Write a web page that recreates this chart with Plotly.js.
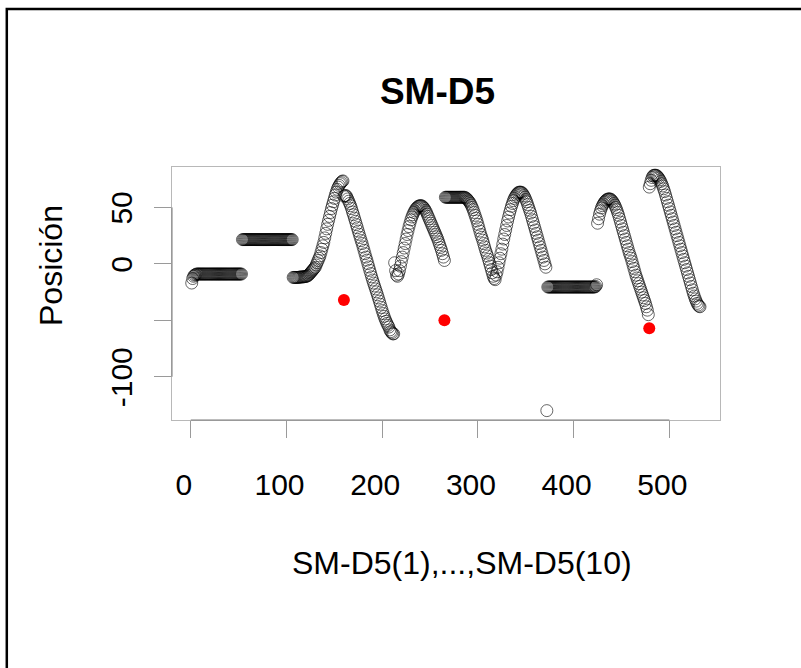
<!DOCTYPE html>
<html>
<head>
<meta charset="utf-8">
<script src="https://cdn.plot.ly/plotly-3.0.1.min.js"></script>
<style>
  html, body { margin: 0; padding: 0; background: #ffffff; }
  #chart { width: 801px; height: 668px; }
</style>
</head>
<body>
<div id="chart"></div>
<script>
// ---- Data ----
var seg1 = [-17,-13,-11,-10,-9.5,-9,-9,-9,-9,-9,
  -9,-9,-9,-9,-9,-9,-9,-9,-9,-9,
  -9,-9,-9,-9,-9,-9,-9,-9,-9,-9,
  -9,-9,-9,-9,-9,-9,-9,-9,-9,-9,
  -9,-9,-9,-9,-9,-9,-9,-9,-9,-9,
  -9,-9,-9];
var seg2 = [21.5,21.5,21.5,21.5,21.5,21.5,21.5,21.5,21.5,21.5,
  21.5,21.5,21.5,21.5,21.5,21.5,21.5,21.5,21.5,21.5,
  21.5,21.5,21.5,21.5,21.5,21.5,21.5,21.5,21.5,21.5,
  21.5,21.5,21.5,21.5,21.5,21.5,21.5,21.5,21.5,21.5,
  21.5,21.5,21.5,21.5,21.5,21.5,21.5,21.5,21.5,21.5,
  21.5,21.5,21.5];
var seg3 = [-12,-12,-12,-12,-12,-12,-11.8,-11.8,-11.6,-11.6,
  -11.5,-11.5,-11.3,-11.2,-11,-10.5,-10,-9,-8,-7,
  -6,-5,-4,-3,-1,1,3,5,7,10,
  13,16,19,23,27,31,35,38.5,42,45.5,
  49,52,55,58,61,63.5,66,68,69.5,71,
  72,73,73.5];
var seg4 = [60,60.5,60.5,59.5,57.5,55.5,53.5,51.5,49,46,
  43.5,40.5,37.7,34.8,32,29,26.2,23.4,20.6,18,
  15,12,9,6,3.3,0.3,-2.7,-5.7,-8.6,-11.5,
  -14.3,-17,-19.6,-22.2,-24.8,-27.4,-30.2,-33,-35.8,-38.6,
  -41.4,-44,-46.5,-48.8,-50.8,-52.7,-54.5,-56,-58.5,-60,
  -61,-62,-62];
var seg5 = [1,-6,-10,-11,-9,-6,-2,2,6,10,
  14,18,22,26,29.5,33,36,39,41.5,43.5,
  45.5,47,48.5,49.5,50.5,51,51.5,51.5,51.5,51,
  50,49,47.5,46,44,42,40,38,36,34,
  32,30,28,26,24,22,19.5,17,14.5,12,
  9,6,3];
var seg6 = [59,59,59,59,59,59,59,59,59,59,
  59,59,59,59,59,59,59,59,59,59,
  59,58.5,58,57,56,55,53.5,52,50,48,
  45.5,43,40.5,38,35,32,29,26,23.5,21,
  18,15,12,9.5,7,4,1,-2,-5,-8,
  -11,-13,-14];
var seg7 = [-10,-7,-3,1,5,9,13,17.5,22,26,
  30,34,38,41.5,45,48,51,53.5,56,58,
  59.5,61,62,63,63.5,63.5,63.5,63,62,60.5,
  59,57,55,52.5,50,47.5,45,42,39,36,
  33,30,27,24,21,18,15,12,9,6,
  3,0,-3];
var seg8 = [-130,-20.5,-20.5,-20.5,-20.5,-20.5,-20.5,-20.5,-20.5,-20.5,
  -20.5,-20.5,-20.5,-20.5,-20.5,-20.5,-20.5,-20.5,-20.5,-20.5,
  -20.5,-20.5,-20.5,-20.5,-20.5,-20.5,-20.5,-20.5,-20.5,-20.5,
  -20.5,-20.5,-20.5,-20.5,-20.5,-20.5,-20.5,-20.5,-20.5,-20.5,
  -20.5,-20.5,-20.5,-20.5,-20.5,-20.5,-20.5,-20.5,-20.5,-20.5,
  -20.5,-20,-18.5];
var seg9 = [36,40,44,47,49.5,51.5,53,54.5,55.5,56.5,
  57,57.5,57.5,57.5,57,56,55,53.5,52,50,
  48,45.5,43,40,37,34,31,28,25,22,
  19,16,13,10,7.5,5,2,-1,-4,-7,
  -10,-12.5,-15,-17.5,-20,-22.5,-25,-27.5,-30,-32.5,
  -35,-38,-41,-45];
var seg10 = [68,71,74,76.5,78,78.5,78.5,78.5,78,77,
  76,74.5,73,71,69,66.5,64,61,58,55,
  52,49,46,43,40,37,34,31,28,25,
  22,19,16,13,10,7,4,1,-2,-5,
  -8,-11,-14,-17,-20,-23,-26,-28.5,-31,-33,
  -35,-36.5,-37.5,-38];

var redX = [160, 265, 479];
var redY = [-32, -50, -57];

var xTickVals = [0, 100, 200, 300, 400, 500];
var yTickVals = [-100, -50, 0, 50];
var yTickText = ['-100', '', '0', '50'];

var titleText = 'SM-D5';
var xLabel = 'SM-D5(1),...,SM-D5(10)';
var yLabel = 'Posición';

// ---- Build traces ----
var allY = [].concat(seg1, seg2, seg3, seg4, seg5, seg6, seg7, seg8, seg9, seg10);
var allX = allY.map(function (_, i) { return i + 1; });

var FONT = '"Liberation Sans", Arial, Helvetica, sans-serif';

var traces = [
  {
    type: 'scatter', mode: 'markers', x: allX, y: allY,
    marker: { symbol: 'circle-open', size: 12, color: '#000000', line: { width: 0.6, color: '#000000' } },
    hoverinfo: 'skip', showlegend: false
  },
  {
    type: 'scatter', mode: 'markers', x: redX, y: redY,
    marker: { symbol: 'circle', size: 12, color: '#ff0000', line: { width: 0 } },
    hoverinfo: 'skip', showlegend: false
  }
];

var layout = {
  width: 801, height: 668,
  margin: { l: 172, r: 81, t: 167, b: 248, pad: 0 },
  paper_bgcolor: '#ffffff', plot_bgcolor: '#ffffff',
  font: { family: FONT, color: '#000000' },
  showlegend: false,
  title: {
    text: '<b>' + titleText + '</b>',
    font: { family: FONT, size: 37, color: '#000000' },
    xref: 'container', yref: 'container',
    x: 437.5 / 801, xanchor: 'center',
    y: 1 - 91 / 668, yanchor: 'middle'
  },
  xaxis: {
    range: [-19.6, 552.9], autorange: false,
    showgrid: false, zeroline: false,
    showline: true, mirror: true, linecolor: '#b8b8b8', linewidth: 1,
    ticks: 'outside', ticklen: 17, tickwidth: 1, tickcolor: '#9a9a9a',
    tickvals: xTickVals, ticktext: xTickVals.map(String),
    tickfont: { family: FONT, size: 30, color: '#000000' },
    ticklabelstandoff: 21, ticklabelshift: -7
  },
  yaxis: {
    range: [-138.3, 85.8], autorange: false,
    showgrid: false, zeroline: false,
    showline: true, mirror: true, linecolor: '#b8b8b8', linewidth: 1,
    ticks: 'outside', ticklen: 17, tickwidth: 1, tickcolor: '#9a9a9a',
    tickvals: yTickVals, ticktext: yTickText, tickangle: -90,
    tickfont: { family: FONT, size: 30, color: '#000000' },
    ticklabelstandoff: 10, ticklabelshift: 5
  },
  shapes: [
    { type: 'line', xref: 'x', yref: 'paper', x0: 0, x1: 500, y0: 0, y1: 0,
      line: { color: '#7a7a7a', width: 1 } },
    { type: 'line', xref: 'paper', yref: 'y', x0: 0, x1: 0, y0: -100, y1: 50,
      line: { color: '#7a7a7a', width: 1 } },
    { type: 'rect', xref: 'paper', yref: 'paper',
      x0: (6.8 - 172) / 548, x1: (815 - 172) / 548,
      y0: (420 - 9) / 253, y1: (420 - 690) / 253,
      line: { color: '#000000', width: 2.5 }, fillcolor: 'rgba(0,0,0,0)' }
  ],
  annotations: [
    { text: xLabel, xref: 'paper', yref: 'paper',
      x: (461.5 - 172) / 548, xanchor: 'center',
      y: (420 - 563) / 253, yanchor: 'middle',
      showarrow: false, font: { family: FONT, size: 32, color: '#000000' } },
    { text: yLabel, xref: 'paper', yref: 'paper', textangle: -90,
      x: (51 - 172) / 548, xanchor: 'center',
      y: (420 - 266) / 253, yanchor: 'middle',
      showarrow: false, font: { family: FONT, size: 32, color: '#000000' } }
  ]
};

Plotly.newPlot('chart', traces, layout, { displayModeBar: false, staticPlot: true });
</script>
</body>
</html>
